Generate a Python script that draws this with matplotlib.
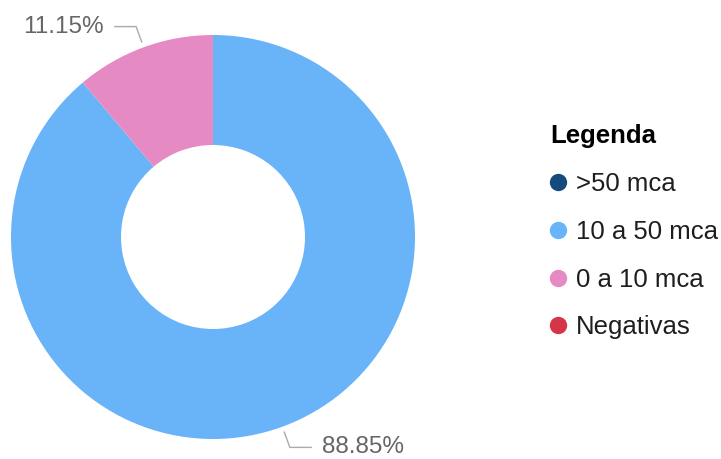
import numpy as np
import matplotlib.pyplot as plt
from matplotlib.lines import Line2D

plt.rcParams["font.family"] = ["Liberation Sans", "DejaVu Sans"]

# pressure classes and their share of the total
categories = [">50 mca", "10 a 50 mca", "0 a 10 mca", "Negativas"]
shares = [0.0, 88.85, 11.15, 0.0]
colors = ["#174a7c", "#69b3f8", "#e68ac4", "#d63447"]

W, H = 721, 459
fig = plt.figure(figsize=(W / 100, H / 100), dpi=100)
ax = fig.add_axes([0, 0, 1, 1])

# only the classes with a non-zero share get a wedge
drawn = [(v, c) for v, c in zip(shares, colors) if v > 0]
vals = [v for v, _ in drawn]
cx, cy, R = 213, H - 237, 202
wedges, _ = ax.pie(vals, colors=[c for _, c in drawn], startangle=90,
                   counterclock=False, center=(cx, cy), radius=R,
                   wedgeprops=dict(width=110, edgecolor="none"))

# percentage labels with elbow leader lines
for w, v in zip(wedges, vals):
    ang = np.deg2rad((w.theta1 + w.theta2) / 2)
    x0, y0 = cx + 207 * np.cos(ang), cy + 207 * np.sin(ang)
    x1, y1 = cx + 224 * np.cos(ang), cy + 224 * np.sin(ang)
    side = 1 if np.cos(ang) >= 0 else -1
    x2 = x1 + side * 22
    ax.plot([x0, x1, x2], [y0, y1, y1], color="#aaaaaa", lw=1,
            solid_capstyle="butt")
    ax.text(x2 + side * 10, y1, f"{v:.2f}%", fontsize=17.5, color="#666666",
            ha="left" if side > 0 else "right", va="center")

handles = [Line2D([], [], ls="none", marker="o", markersize=12.5,
                  markerfacecolor=c, markeredgecolor="none") for c in colors]
leg = ax.legend(handles, categories, title="Legenda", loc="upper left",
                bbox_to_anchor=(537, H - 111), bbox_transform=ax.transData,
                frameon=False, fontsize=18.5, handlelength=0.6,
                handletextpad=0.4, labelspacing=0.93, borderpad=0,
                alignment="left", title_fontproperties={"weight": "bold",
                                                        "size": 18.5})
for t in leg.get_texts():
    t.set_color("#1e1e1e")

ax.set_xlim(0, W)
ax.set_ylim(0, H)
ax.set_axis_off()
fig.savefig("out.png", dpi=100, facecolor="white")
